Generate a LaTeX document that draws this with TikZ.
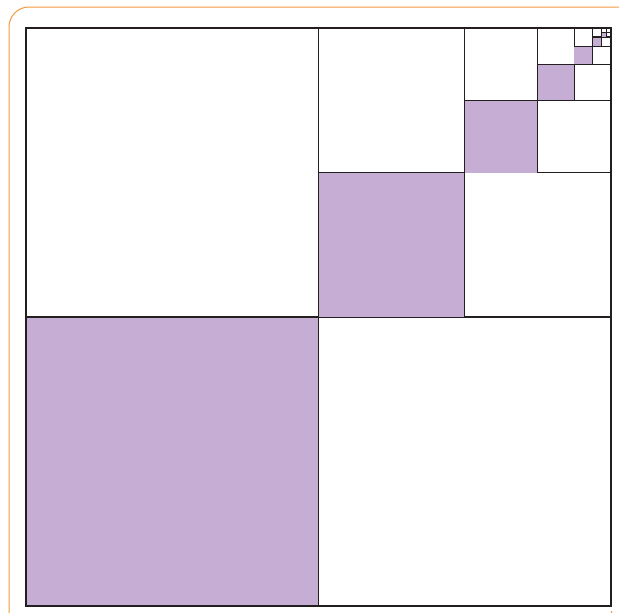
\documentclass[tikz,border=0pt]{standalone}
\usepackage{tikz}
\definecolor{lilac}{HTML}{C6ADD3}
\definecolor{edge}{HTML}{231F20}
\definecolor{frameorange}{HTML}{F39A3C}
\tikzset{
  cell/.style={draw=edge, line width=1.1pt},
  frameline/.style={draw=frameorange, line width=1pt}
}
\begin{document}
\begin{tikzpicture}[x=1pt,y=-1pt]
\useasboundingbox (0,0) rectangle (619,613);
% orange page frame
\draw[frameline, rounded corners=20pt] (9,613) -- (9,7) -- (619,7);
\draw[frameline] (612,611) arc (180:270:-4);
% recursive squares
\foreach \k in {1,...,7}{
  \pgfmathsetmacro{\xm}{611-(611-26)/2^\k}
  \pgfmathsetmacro{\ym}{28+(606-28)/2^\k}
  \pgfmathsetmacro{\xo}{611-(611-26)/2^(\k-1)}
  \pgfmathsetmacro{\yo}{28+(606-28)/2^(\k-1)}
  \fill[lilac] (\xo,\ym) rectangle (\xm,\yo);
  \draw[cell] (\xm,28) -- (\xm,\yo);
  \draw[cell] (\xo,\ym) -- (611,\ym);
}
\draw[cell] (26,28) rectangle (611,606);
\end{tikzpicture}
\end{document}
